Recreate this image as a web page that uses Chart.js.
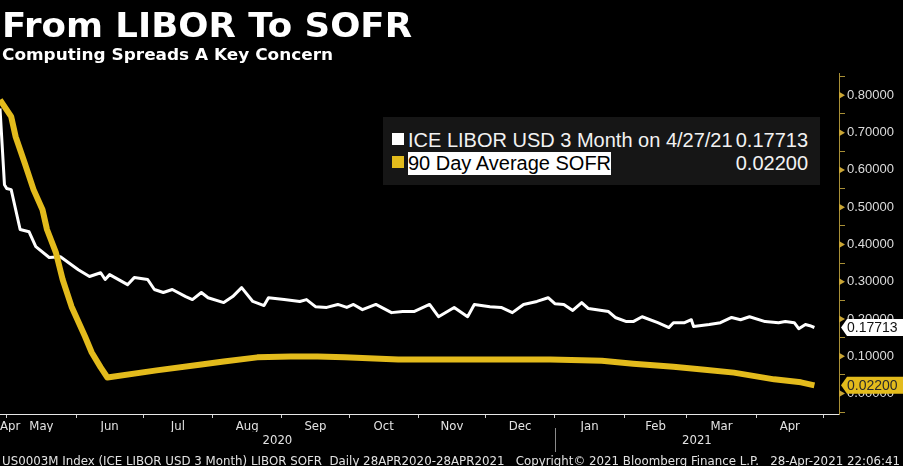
<!DOCTYPE html>
<html>
<head>
<meta charset="utf-8">
<script src="https://cdn.jsdelivr.net/npm/chart.js@4.4.1/dist/chart.umd.min.js"></script>
<style>
html, body { margin: 0; padding: 0; background: #000; }
#wrap { position: relative; width: 903px; height: 466px; overflow: hidden; background: #000; }
#chart { position: absolute; left: 0; top: 0; }
.txt { position: absolute; white-space: pre; transform-origin: 0 0; color: #fff; }
#title { left: 2px; top: 8px; font: bold 34px "DejaVu Sans"; line-height: 34px; }
#subtitle { left: 2px; top: 47px; font: bold 16px "DejaVu Sans"; line-height: 16px; }
#footer { left: 2px; top: 454px; font: 13px "Liberation Sans Narrow", "DejaVu Sans Condensed", "Liberation Sans"; line-height: 13px; color: #e2e2e2; }
#legend { position: absolute; left: 383px; top: 117px; width: 437px; height: 68px; background: #161616; }
.row { position: absolute; left: 0; width: 425px; height: 23px; font: 20px "Liberation Sans"; line-height: 23px; color: #f2f2f2; white-space: pre; }
.row .sq { position: absolute; left: 9px; top: 4px; width: 12px; height: 12px; }
.row .name { position: absolute; left: 25px; top: 0; height: 23px; }
.row .val { position: absolute; right: 0; top: 0; }
</style>
</head>
<body>
<div id="wrap">
  <canvas id="chart" width="903" height="466"></canvas>
  <div id="title" class="txt">From LIBOR To SOFR</div>
  <div id="subtitle" class="txt">Computing Spreads A Key Concern</div>
  <div id="legend">
    <div class="row" style="top:12px"><span class="sq" style="background:#fff"></span><span class="name" id="n1"></span><span class="val" id="v1"></span></div>
    <div class="row" style="top:35px"><span class="sq" style="background:#e3bb1c"></span><span class="name" id="n2" style="background:#fff;color:#000"></span><span class="val" id="v2"></span></div>
  </div>
  <div id="footer" class="txt">US0003M Index (ICE LIBOR USD 3 Month) LIBOR SOFR  Daily 28APR2020-28APR2021   Copyright© 2021 Bloomberg Finance L.P.   28-Apr-2021 22:06:41</div>
</div>
<script>
// days counted from 28 Apr 2020
const liborDays = [0, 2, 3, 5, 9, 13, 16, 22, 27, 35, 40, 45, 47, 49, 57, 60, 66, 69, 73, 77,
    83, 86, 90, 93, 100, 104, 108, 113, 118, 120, 127, 134, 137, 141, 146, 151, 155, 158, 162, 168,
    175, 180, 185, 192, 196, 203, 209, 212, 219, 224, 229, 234, 240, 245, 248, 252, 256, 260, 263, 272,
    275, 280, 283, 287, 294, 299, 301, 306, 309, 310, 317, 322, 327, 331, 335, 342, 348, 351, 355, 357,
    360, 362, 364];
const liborValues = [0.765, 0.560, 0.550, 0.547, 0.440, 0.434, 0.394, 0.365, 0.367, 0.332,
    0.314, 0.324, 0.306, 0.319, 0.292, 0.311, 0.306, 0.279, 0.271, 0.279,
    0.260, 0.252, 0.271, 0.257, 0.244, 0.260, 0.284, 0.247, 0.236, 0.257,
    0.252, 0.247, 0.252, 0.233, 0.231, 0.239, 0.231, 0.239, 0.225, 0.239,
    0.217, 0.220, 0.220, 0.239, 0.206, 0.231, 0.206, 0.239, 0.233, 0.231,
    0.217, 0.239, 0.247, 0.257, 0.241, 0.239, 0.223, 0.244, 0.228, 0.220,
    0.204, 0.193, 0.193, 0.206, 0.190, 0.177, 0.190, 0.190, 0.198, 0.180,
    0.185, 0.190, 0.204, 0.198, 0.206, 0.193, 0.190, 0.193, 0.190, 0.174,
    0.185, 0.182, 0.17713];

const sofrDays = [0, 5, 7, 11, 15, 19, 21, 25, 28, 32, 38, 41, 45, 48, 70, 90, 100, 115, 130, 142,
    154, 178, 200, 228, 246, 260, 269, 283, 301, 315, 328, 346, 358, 364];
const sofrValues = [0.788, 0.743, 0.689, 0.619, 0.547, 0.493, 0.440, 0.378, 0.306, 0.233,
    0.153, 0.110, 0.070, 0.043, 0.062, 0.078, 0.086, 0.097, 0.099, 0.099,
    0.097, 0.091, 0.091, 0.091, 0.091, 0.089, 0.088, 0.080, 0.072, 0.064,
    0.056, 0.038, 0.030, 0.022];

const liborName = "ICE LIBOR USD 3 Month on 4/27/21";
const sofrName = "90 Day Average SOFR";

const monthNames = ["Apr", "May", "Jun", "Jul", "Aug", "Sep", "Oct", "Nov", "Dec", "Jan", "Feb", "Mar", "Apr"];
const monthStarts = [0, 3, 34, 64, 95, 126, 156, 187, 217, 248, 279, 307, 338, 368];
const yearNames = ["2020", "2021"];
const yearStarts = [0, 248, 375];
const yTickValues = [-0.05, 0, 0.05, 0.1, 0.15, 0.2, 0.25, 0.3, 0.35, 0.4, 0.45, 0.5, 0.55, 0.6, 0.65, 0.7, 0.75, 0.8, 0.85];

const WHITE = "#ffffff";
const GOLD = "#e3bb1c";
const AXIS_GOLD = "#a88f36";

// month ticks: boundaries carry the tick mark, mid points carry the label
const monthTicks = [];
monthStarts.forEach((d, i) => {
    if (i > 0) monthTicks.push({ value: d, label: "" });
    if (i < monthNames.length) {
        const mid = Math.max((d + monthStarts[i + 1]) / 2, 4.5);
        monthTicks.push({ value: mid, label: monthNames[i] });
    }
});
monthTicks.sort((a, b) => a.value - b.value);

const yearTicks = yearNames.map((n, i) => ({ value: (yearStarts[i] + yearStarts[i + 1]) / 2, label: n }));

const isMajor = v => Math.abs(v * 10 - Math.round(v * 10)) < 1e-6 && v >= 0;

const decor = {
    id: "decor",
    afterDraw(chart) {
        const { ctx, chartArea, scales } = chart;
        const y = scales.y;
        ctx.save();

        // major tick arrows on the right axis
        ctx.fillStyle = "#c9a535";
        yTickValues.filter(isMajor).forEach(v => {
            const py = y.getPixelForValue(v);
            ctx.beginPath();
            ctx.moveTo(chartArea.right, py - 3.5);
            ctx.lineTo(chartArea.right + 6, py);
            ctx.lineTo(chartArea.right, py + 3.5);
            ctx.closePath();
            ctx.fill();
        });

        // year separator
        const sx = Math.round(scales.x.getPixelForValue(yearStarts[1])) + 0.5;
        ctx.strokeStyle = "#8a8a8a";
        ctx.lineWidth = 1;
        ctx.beginPath();
        ctx.moveTo(sx, scales.year.top - 4);
        ctx.lineTo(sx, scales.year.bottom + 2);
        ctx.stroke();

        // last value callouts
        const callouts = [
            { v: liborValues[liborValues.length - 1], bg: "#ffffff", fg: "#111111" },
            { v: sofrValues[sofrValues.length - 1], bg: GOLD, fg: "#2a2a2a" }
        ];
        callouts.forEach(c => {
            const py = y.getPixelForValue(c.v);
            const x0 = chartArea.right + 2;
            const h = 8.5;
            ctx.fillStyle = c.bg;
            ctx.beginPath();
            ctx.moveTo(x0, py);
            ctx.lineTo(x0 + 6, py - h);
            ctx.lineTo(chart.width, py - h);
            ctx.lineTo(chart.width, py + h);
            ctx.lineTo(x0 + 6, py + h);
            ctx.closePath();
            ctx.fill();
            ctx.fillStyle = c.fg;
            ctx.font = '14px "Liberation Sans"';
            ctx.textBaseline = "middle";
            ctx.textAlign = "left";
            ctx.fillText(c.v.toFixed(5), chartArea.right + 8, py + 1);
        });
        ctx.restore();
    }
};

const tickFont = { family: '"Liberation Sans Narrow", "DejaVu Sans Condensed", "Liberation Sans"', size: 13 };

new Chart(document.getElementById("chart"), {
    type: "line",
    data: {
        datasets: [
            {
                label: sofrName,
                data: sofrDays.map((d, i) => ({ x: d, y: sofrValues[i] })),
                borderColor: GOLD,
                borderWidth: 6,
                pointRadius: 0,
                tension: 0,
                borderJoinStyle: "round",
                order: 0
            },
            {
                label: liborName,
                data: liborDays.map((d, i) => ({ x: d, y: liborValues[i] })),
                borderColor: WHITE,
                borderWidth: 3,
                pointRadius: 0,
                tension: 0,
                borderJoinStyle: "round",
                order: 1
            }
        ]
    },
    options: {
        responsive: false,
        animation: false,
        layout: { padding: { top: 73, left: 0, right: 0, bottom: 16 } },
        plugins: {
            legend: { display: false },
            tooltip: { enabled: false }
        },
        scales: {
            x: {
                type: "linear",
                position: "bottom",
                min: 0,
                max: 375,
                weight: 0,
                afterBuildTicks: s => { s.ticks = monthTicks.map(t => ({ value: t.value })); },
                afterFit: s => { s.height = 18; s.paddingLeft = 0; s.paddingRight = 0; },
                border: { color: "#e6e6e6", width: 1 },
                grid: {
                    drawOnChartArea: false,
                    tickLength: 4,
                    tickColor: c => (monthTicks[c.index] && monthTicks[c.index].label === "") ? "#cfcfcf" : "rgba(0,0,0,0)"
                },
                ticks: {
                    color: "#e2e2e2",
                    font: tickFont,
                    padding: 1,
                    autoSkip: false,
                    maxRotation: 0,
                    callback: (v, i) => monthTicks[i].label
                }
            },
            year: {
                type: "linear",
                position: "bottom",
                min: 0,
                max: 375,
                weight: 1,
                afterBuildTicks: s => { s.ticks = yearTicks.map(t => ({ value: t.value })); },
                afterFit: s => { s.height = 18; s.paddingLeft = 0; s.paddingRight = 0; },
                border: { display: false },
                grid: { display: false, drawTicks: false },
                ticks: {
                    color: "#e2e2e2",
                    font: tickFont,
                    padding: 1,
                    autoSkip: false,
                    maxRotation: 0,
                    callback: (v, i) => yearTicks[i].label
                }
            },
            y: {
                position: "right",
                min: -0.055,
                max: 0.86,
                afterBuildTicks: s => { s.ticks = yTickValues.map(v => ({ value: v })); },
                afterFit: s => { s.width = 64; s.paddingTop = 0; s.paddingBottom = 0; },
                border: { color: AXIS_GOLD, width: 1 },
                grid: {
                    drawOnChartArea: false,
                    tickLength: 6,
                    tickColor: c => isMajor(yTickValues[c.index]) ? "rgba(0,0,0,0)" : AXIS_GOLD
                },
                ticks: {
                    color: "#dcdcdc",
                    font: { family: '"Liberation Sans"', size: 13 },
                    padding: 2,
                    autoSkip: false,
                    callback: (v, i) => isMajor(yTickValues[i]) ? yTickValues[i].toFixed(5) : ""
                }
            }
        }
    },
    plugins: [decor]
});

// legend text
document.getElementById("n1").textContent = liborName;
document.getElementById("v1").textContent = liborValues[liborValues.length - 1].toFixed(5);
document.getElementById("n2").textContent = sofrName;
document.getElementById("v2").textContent = sofrValues[sofrValues.length - 1].toFixed(5);

// squeeze the html text lines to the reference widths
function fit(id, w) {
    const el = document.getElementById(id);
    const r = el.getBoundingClientRect().width;
    if (r > 0) el.style.transform = "scaleX(" + (w / r) + ")";
}
fit("title", 410);
fit("subtitle", 331);
fit("footer", 898);
</script>
</body>
</html>
